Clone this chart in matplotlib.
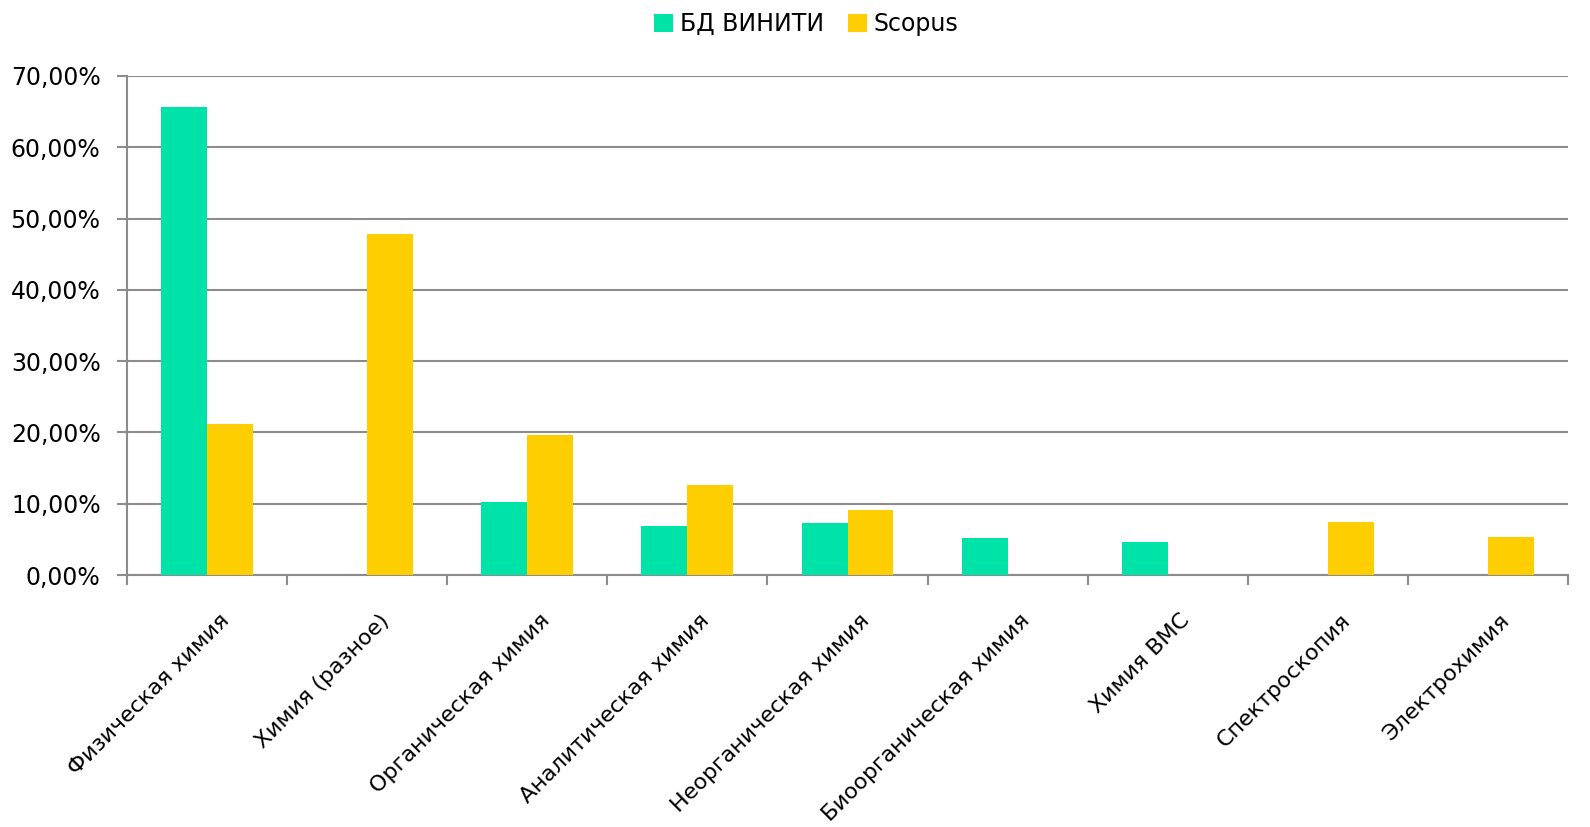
import matplotlib
matplotlib.use("Agg")
import matplotlib.pyplot as plt
import matplotlib.transforms as mtransforms
import numpy as np
from matplotlib.ticker import FuncFormatter, MultipleLocator

categories = ["Физическая химия", "Химия (разное)", "Органическая химия",
              "Аналитическая химия", "Неорганическая химия", "Биоорганическая химия",
              "Химия ВМС", "Спектроскопия", "Электрохимия"]
viniti = [65.6, 0.0, 10.2, 6.9, 7.3, 5.2, 4.6, 0.0, 0.0]
scopus = [21.2, 47.8, 19.6, 12.6, 9.1, 0.0, 0.0, 7.4, 5.3]
series_names = ["БД ВИНИТИ", "Scopus"]
colors = ["#00E3A8", "#FFCE00"]

plt.rcParams['font.family'] = ['DejaVu Sans']
fig = plt.figure(figsize=(15.9, 8.27), dpi=100)
ax = fig.add_axes([127/1590, 1-575/827, (1568-127)/1590, (575-76)/827])

x = np.arange(len(categories))
w = 0.287
b1 = ax.bar(x - w/2, viniti, w, color=colors[0], label=series_names[0], zorder=3)
b2 = ax.bar(x + w/2, scopus, w, color=colors[1], label=series_names[1], zorder=3)

ax.set_xlim(-0.5, len(categories) - 0.5)
ax.set_ylim(0, 70)
ax.yaxis.set_major_locator(MultipleLocator(10))
ax.yaxis.set_major_formatter(FuncFormatter(lambda v, p: f"{v:.2f}".replace(".", ",") + "%"))
ax.grid(axis='y', color='#8c8c8c', linewidth=1.5, zorder=0)

for s in ['top', 'right']:
    ax.spines[s].set_visible(False)
for s in ['left', 'bottom']:
    ax.spines[s].set_color('#8c8c8c')
    ax.spines[s].set_linewidth(1.5)

ax.set_xticks(np.arange(len(categories) + 1) - 0.5)
ax.set_xticklabels([])
ax.set_xticks(x, minor=True)
ax.set_xticklabels(categories, minor=True, rotation=45, ha='right', va='top',
                   rotation_mode='anchor', fontsize=16)
ax.tick_params(axis='x', which='minor', length=0, pad=14)
ax.tick_params(axis='x', which='major', length=7, width=1.5, color='#8c8c8c', direction='out')
ax.tick_params(axis='y', length=7, width=1.5, color='#8c8c8c', labelsize=17, pad=12)

offset = mtransforms.ScaledTranslation(12/100, -16/100, fig.dpi_scale_trans)
for lab in ax.get_xticklabels(minor=True):
    lab.set_transform(lab.get_transform() + offset)

fig.legend(handles=[b1, b2], labels=series_names, loc='center', bbox_to_anchor=(0.507, 1-24/827),
           ncol=2, frameon=False, fontsize=17, handlelength=0.8, handleheight=0.8,
           handletextpad=0.3, columnspacing=1.0)

fig.savefig("out.png", dpi=100)
